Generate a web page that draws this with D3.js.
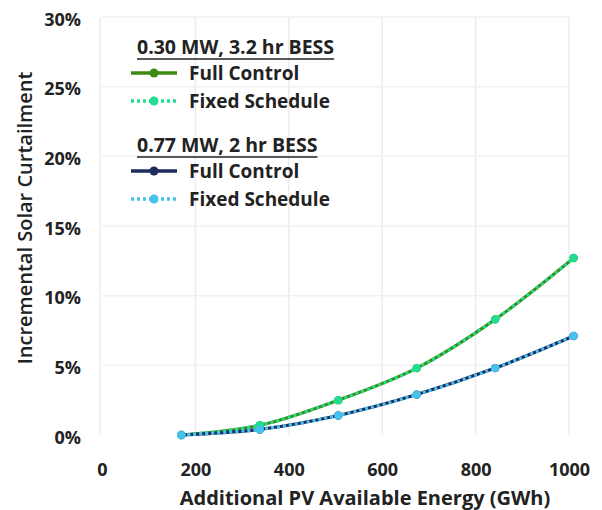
<!DOCTYPE html>
<html><head><meta charset="utf-8">
<script src="https://cdn.jsdelivr.net/npm/d3@7"></script>
<style>body{margin:0;background:#fff}svg{display:block}text{font-family:"Open Sans",sans-serif}</style>
</head><body>
<svg id="c" width="602" height="510"></svg>
<script>
const xValues = [170, 338, 506, 674, 842, 1010];
const greenFull = [0.0, 0.7, 2.5, 4.8, 8.3, 12.7];
const greenFixed = [0.0, 0.7, 2.5, 4.8, 8.3, 12.7];
const blueFull = [0.0, 0.4, 1.4, 2.9, 4.8, 7.1];
const blueFixed = [0.0, 0.4, 1.4, 2.9, 4.8, 7.1];
const xTicks = [0, 200, 400, 600, 800, 1000];
const yTicks = [0, 5, 10, 15, 20, 25, 30];

const svg = d3.select("#c");
const x = d3.scaleLinear().domain([0, 1000]).range([102, 569]);
const y = d3.scaleLinear().domain([0, 30]).range([435, 17]);

// grid
svg.append("g").selectAll("line").data(xTicks.slice(1)).join("line")
  .attr("x1", d => x(d)).attr("x2", d => x(d)).attr("y1", y(30)).attr("y2", y(0))
  .attr("stroke", "#ececec").attr("stroke-width", 1.5);
svg.append("g").selectAll("line").data(yTicks.slice(1)).join("line")
  .attr("x1", x(0)).attr("x2", x(1000)).attr("y1", d => y(d)).attr("y2", d => y(d))
  .attr("stroke", "#f1f1f1").attr("stroke-width", 1.5);
svg.append("line").attr("x1", 100).attr("x2", 100).attr("y1", y(30)).attr("y2", y(0))
  .attr("stroke", "#ececec").attr("stroke-width", 1.5);

// axes (labels only)
const yAxis = d3.axisLeft(y).tickValues(yTicks).tickFormat(d => d + "%").tickSize(0).tickPadding(0);
const gy = svg.append("g").attr("transform", "translate(81,2)").call(yAxis);
gy.select(".domain").remove();
gy.selectAll("text").attr("font-size", 18).attr("font-weight", 700).attr("fill", "#222").attr("dy", "0.35em");

const xAxis = d3.axisBottom(x).tickValues(xTicks).tickFormat(d3.format("d")).tickSize(0).tickPadding(0);
const gx = svg.append("g").attr("transform", "translate(0,470)").call(xAxis);
gx.select(".domain").remove();
gx.selectAll("text").attr("font-size", 18).attr("font-weight", 700).attr("fill", "#222").attr("dy", "0.35em");

svg.append("text").attr("x", 365).attr("y", 498).attr("dy", "0.35em").attr("text-anchor", "middle")
  .attr("font-size", 20).attr("font-weight", 700).attr("fill", "#222")
  .text("Additional PV Available Energy (GWh)");
svg.append("text").attr("transform", "translate(25,218) rotate(-90)").attr("dy", "0.35em").attr("text-anchor", "middle")
  .attr("font-size", 20).attr("font-weight", 600).attr("fill", "#222")
  .text("Incremental Solar Curtailment");

const line = d3.line().x(d => x(d[0])).y(d => y(d[1])).curve(d3.curveCatmullRom);
const series = [
  {vals: greenFull, color: "#3f8a14", dash: null},
  {vals: blueFull, color: "#1e2b5e", dash: null},
  {vals: greenFixed, color: "#22dd8f", dash: "3,3"},
  {vals: blueFixed, color: "#45c3ee", dash: "3,3"}
];
series.forEach(s => {
  const pts = xValues.map((xv, i) => [xv, s.vals[i]]);
  svg.append("path").attr("d", line(pts)).attr("fill", "none")
    .attr("stroke", s.color).attr("stroke-width", 3.2)
    .attr("stroke-dasharray", s.dash);
  svg.append("g").selectAll("circle").data(pts).join("circle")
    .attr("cx", d => x(d[0])).attr("cy", d => y(d[1])).attr("r", 4.2).attr("fill", s.color);
});

// legend
const legend = [
  {title: "0.30 MW, 3.2 hr BESS", y: 47, items: [["Full Control", "#3f8a14", null], ["Fixed Schedule", "#22dd8f", "3,3"]]},
  {title: "0.77 MW, 2 hr BESS", y: 145, items: [["Full Control", "#1e2b5e", null], ["Fixed Schedule", "#45c3ee", "3,3"]]}
];
legend.forEach(g => {
  const t = svg.append("text").attr("x", 137).attr("y", g.y).attr("dy", "0.35em")
    .attr("font-size", 19.5).attr("font-weight", 700).attr("fill", "#222").text(g.title);
  const w = t.node().getComputedTextLength();
  svg.append("line").attr("x1", 137).attr("x2", 137 + w).attr("y1", g.y + 12).attr("y2", g.y + 12)
    .attr("stroke", "#222").attr("stroke-width", 1.3);
  g.items.forEach((it, i) => {
    const yy = g.y + 26 + i * 28;
    svg.append("line").attr("x1", 131).attr("x2", 177).attr("y1", yy).attr("y2", yy)
      .attr("stroke", it[1]).attr("stroke-width", 3.5).attr("stroke-dasharray", it[2]);
    svg.append("circle").attr("cx", 154).attr("cy", yy).attr("r", 4.5).attr("fill", it[1]);
    svg.append("text").attr("x", 189).attr("y", yy).attr("dy", "0.35em")
      .attr("font-size", 19).attr("font-weight", 700).attr("fill", "#222").text(it[0]);
  });
});
</script>
</body></html>
